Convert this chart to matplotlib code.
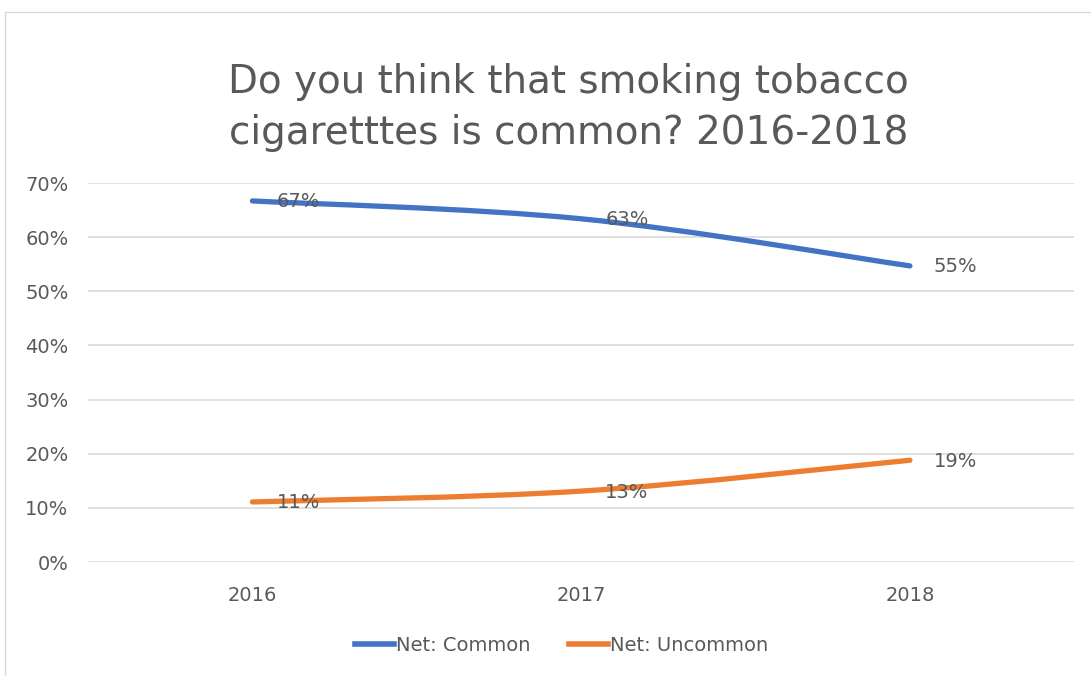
import matplotlib
matplotlib.use("Agg")
import matplotlib.pyplot as plt
from matplotlib.path import Path
from matplotlib.patches import PathPatch, Rectangle
from matplotlib.lines import Line2D
import numpy as np

years = ["2016", "2017", "2018"]
common = [66.7, 63.4, 54.7]
uncommon = [11.1, 13.1, 18.8]
common_labels = ["67%", "63%", "55%"]
uncommon_labels = ["11%", "13%", "19%"]
yticks = [0, 10, 20, 30, 40, 50, 60, 70]

plt.rcParams['font.family'] = ['DejaVu Sans']
grey = "#595959"
blue = "#4472c4"
orange = "#ed7d31"


def smooth_path(xs, ys):
    # excel style smoothed line (catmull-rom as bezier)
    pts = np.column_stack([xs, ys]).astype(float)
    ext = np.vstack([pts[0], pts, pts[-1]])
    verts = [pts[0]]
    codes = [Path.MOVETO]
    for i in range(len(pts) - 1):
        p0, p1, p2, p3 = ext[i], ext[i + 1], ext[i + 2], ext[i + 3]
        verts += [p1 + (p2 - p0) / 6, p2 - (p3 - p1) / 6, p2]
        codes += [Path.CURVE4] * 3
    return Path(verts, codes)


fig = plt.figure(figsize=(10.91, 6.76), dpi=100)
fig.patches.append(Rectangle((0.005, -0.01), 1.2, 0.992, transform=fig.transFigure,
                             fill=False, edgecolor="#d9d9d9", lw=1))
ax = fig.add_axes([0.0807, 0.1686, 0.904, 0.5606])

x = np.arange(len(years))
for vals, labs, col in [(common, common_labels, blue), (uncommon, uncommon_labels, orange)]:
    ax.add_patch(PathPatch(smooth_path(x, vals), fill=False, edgecolor=col, lw=3.8,
                           capstyle="round", joinstyle="round", zorder=3))
    for xi, v, t in zip(x, vals, labs):
        ax.annotate(t, (xi, v), xytext=(24, -1), textcoords="offset pixels",
                    va="center", ha="left", fontsize=14, color=grey, zorder=4)

ax.set_xlim(-0.5, 2.5)
ax.set_ylim(0, 70)
ax.set_yticks(yticks)
ax.set_yticklabels([f"{t}%" for t in yticks])
ax.set_xticks(x)
ax.set_xticklabels(years)
ax.grid(axis="y", color="#d9d9d9", lw=1.2)
ax.set_axisbelow(True)
for s in ax.spines.values():
    s.set_visible(False)
ax.tick_params(length=0, labelsize=14, colors=grey)
ax.tick_params(axis="x", pad=17)
ax.tick_params(axis="y", pad=14)

fig.text(0.521, 0.841, "Do you think that smoking tobacco\ncigaretttes is common? 2016-2018",
         ha="center", va="center", fontsize=28, color=grey, linespacing=1.45)

handles = [Line2D([], [], color=blue, lw=4), Line2D([], [], color=orange, lw=4)]
fig.legend(handles, ["Net: Common", "Net: Uncommon"], loc="center", bbox_to_anchor=(0.515, 0.045),
           ncol=2, frameon=False, fontsize=14, handlelength=2.0, handletextpad=0.1,
           columnspacing=2.0, labelcolor=grey)

fig.savefig("out.png", dpi=100, facecolor="white")
